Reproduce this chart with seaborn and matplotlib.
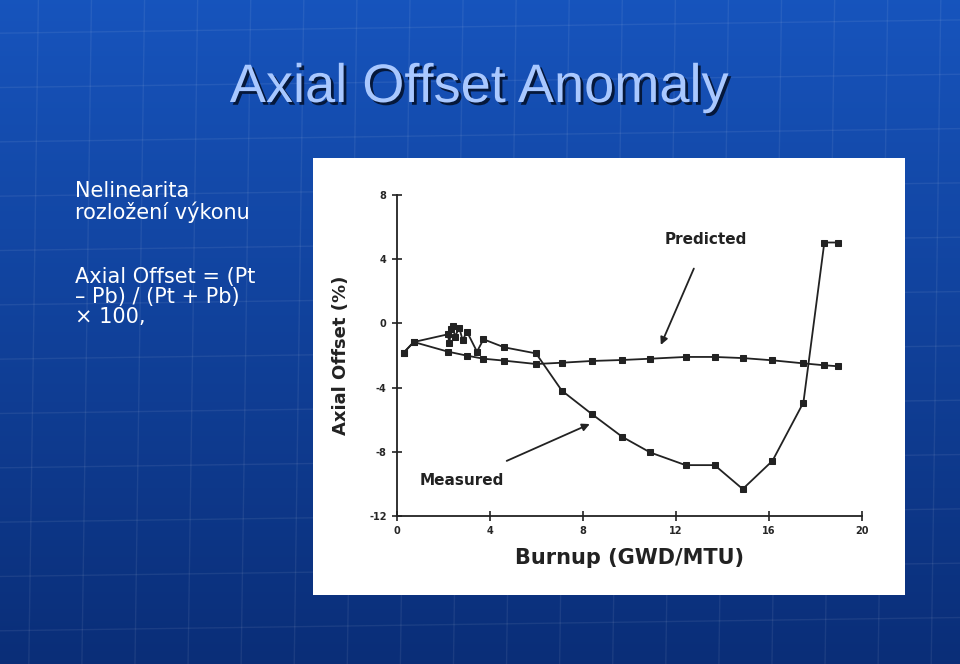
import numpy as np
import pandas as pd
import matplotlib
matplotlib.use("Agg")
import matplotlib.pyplot as plt
import matplotlib.patheffects as pe
import seaborn as sns

meas_x = [0.29,0.72,2.19,2.25,2.33,2.41,2.49,2.68,2.82,3.01,3.44,3.72,4.61,5.98,7.09,8.39,9.69,10.89,12.41,13.66,14.87,16.15,17.48,18.38,18.97]
meas_y = [-1.82,-1.16,-0.68,-1.24,-0.37,-0.15,-0.83,-0.27,-1.04,-0.52,-1.76,-0.99,-1.49,-1.87,-4.19,-5.66,-7.07,-8.04,-8.83,-8.83,-10.32,-8.56,-4.93,5.04,5.04]
pred_x = [0.29,0.72,2.19,3.01,3.72,4.61,5.98,7.09,8.39,9.69,10.89,12.41,13.66,14.87,16.15,17.48,18.38,18.97]
pred_y = [-1.82,-1.16,-1.76,-2.01,-2.20,-2.32,-2.53,-2.45,-2.34,-2.28,-2.20,-2.09,-2.09,-2.16,-2.30,-2.49,-2.61,-2.67]
xticks = [0,4,8,12,16,20]
yticks = [8,4,0,-4,-8,-12]

sns.set_theme(style="white")
W, H = 960, 664
fig = plt.figure(figsize=(W/100, H/100), dpi=100)

bg = fig.add_axes([0,0,1,1]); bg.set_axis_off()
t = np.linspace(0,1,256)[:,None]
top = np.array([0.09,0.33,0.74]); bot = np.array([0.04,0.18,0.47])
grad = top*(1-t[...,None]) + bot*t[...,None]
grad = np.repeat(grad, 2, axis=1)
bg.imshow(grad, aspect='auto', extent=[0,1,0,1], origin='upper')
for yy in np.linspace(0.05,0.95,12):
    bg.plot([0,1],[yy,yy+0.02],color=(1,1,1,0.07),lw=1)
for xx in np.linspace(0.03,0.97,18):
    bg.plot([xx,xx+0.01],[0,1],color=(1,1,1,0.07),lw=1)
bg.set_xlim(0,1); bg.set_ylim(0,1)

fig.text(479/W, 1-88/H, "Axial Offset Anomaly", ha='center', va='center', fontsize=39,
         color='#a9c8ff', family='Liberation Sans',
         path_effects=[pe.withSimplePatchShadow(offset=(2,-2), shadow_rgbFace='#04122e', alpha=0.9)])
fig.text(75/W, 1-202/H, "Nelinearita\nrozložení výkonu", ha='left', va='center', fontsize=15,
         color='white', family='DejaVu Sans', linespacing=1.0)
fig.text(75/W, 1-297/H, "Axial Offset = (Pt\n– Pb) / (Pt + Pb)\n× 100,", ha='left', va='center',
         fontsize=15, color='white', family='DejaVu Sans', linespacing=1.0)

panel = fig.add_axes([313/W, 1-595/H, (905-313)/W, (595-158)/H])
panel.set_facecolor('white'); panel.set_xticks([]); panel.set_yticks([])
for s in panel.spines.values(): s.set_visible(False)

ax = fig.add_axes([397/W, 1-516/H, (862-397)/W, (516-195)/H])
ax.patch.set_alpha(0)
dm = pd.DataFrame({"x": meas_x, "y": meas_y, "i": range(len(meas_x))})
dp = pd.DataFrame({"x": pred_x, "y": pred_y, "i": range(len(pred_x))})
for d in (dm, dp):
    sns.lineplot(data=d, x="x", y="y", sort=False, estimator=None, ax=ax, color='#222222',
                 lw=1.3, marker='s', markersize=4, markeredgecolor='#222222')
ax.set_xlim(0,20); ax.set_ylim(-12,8)
ax.set_xticks(xticks); ax.set_yticks(yticks)
ax.set_xticklabels([str(v) for v in xticks], fontsize=7, fontweight='bold')
ax.set_yticklabels([str(v) for v in yticks], fontsize=7, fontweight='bold')
ax.tick_params(direction='inout', length=7, width=1.2, color='#222222', pad=4, left=True, bottom=True)
for s in ['top','right']: ax.spines[s].set_visible(False)
for s in ['left','bottom']:
    ax.spines[s].set_color('#222222'); ax.spines[s].set_linewidth(1.3)
ax.set_xlabel("Burnup (GWD/MTU)", fontsize=15, fontweight='bold', color='#222222', labelpad=8)
ax.set_ylabel("Axial Offset (%)", fontsize=13, fontweight='bold', color='#222222', labelpad=14)
ax.annotate("Predicted", xy=(11.3,-1.5), xytext=(13.3,5.2), fontsize=11, fontweight='bold',
            ha='center', va='center', color='#222222',
            arrowprops=dict(arrowstyle='-|>', color='#222222', lw=1.3, shrinkA=14))
ax.annotate("Measured", xy=(8.4,-6.2), xytext=(2.8,-9.8), fontsize=11, fontweight='bold',
            ha='center', va='center', color='#222222',
            arrowprops=dict(arrowstyle='-|>', color='#222222', lw=1.3, shrinkA=16))
fig.savefig("out.png", dpi=100)
